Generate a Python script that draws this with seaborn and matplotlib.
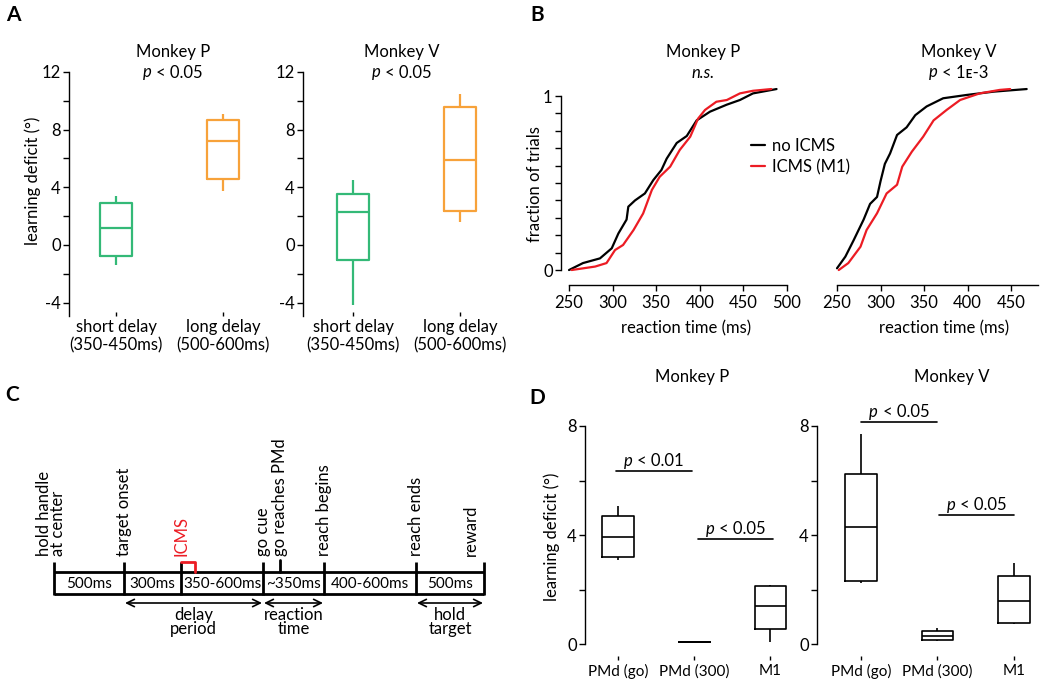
import numpy as np
import pandas as pd
import matplotlib
matplotlib.use("Agg")
import matplotlib.pyplot as plt
from matplotlib.lines import Line2D
from matplotlib.transforms import offset_copy
import seaborn as sns

# ---------------- data ----------------
# Panel A: five-number summaries (low whisker, q1, median, q3, high whisker)
A_conditions = ["short delay\n(350-450ms)", "long delay\n(500-600ms)"]
A_P_short = [-1.39, -0.76, 1.18, 2.89, 3.42]
A_P_long = [3.74, 4.60, 7.18, 8.66, 9.12]
A_V_short = [-4.16, -1.04, 2.29, 3.53, 4.48]
A_V_long = [1.62, 2.36, 5.87, 9.56, 10.44]
A_titles = ["Monkey P", "Monkey V"]
A_pvals = ["< 0.05", "< 0.05"]

# Panel B: cumulative reaction-time curves
P_no_rt = [250, 266, 285.5, 299, 306.6, 316, 318, 325.7, 337, 346.7, 356, 362, 373.5, 385, 396.4, 411.7, 430.8, 446, 461, 488]
P_no_frac = [0, 0.04, 0.067, 0.125, 0.21, 0.29, 0.364, 0.40, 0.44, 0.517, 0.575, 0.64, 0.73, 0.77, 0.86, 0.91, 0.95, 0.977, 1.015, 1.04]
P_icms_rt = [253, 280, 293, 302.8, 312, 324, 335, 345, 354, 366, 377, 389, 398, 406, 419, 431, 446, 461, 482]
P_icms_frac = [0, 0.02, 0.04, 0.115, 0.144, 0.23, 0.325, 0.46, 0.536, 0.594, 0.69, 0.766, 0.87, 0.92, 0.967, 0.977, 1.015, 1.03, 1.04]
V_no_rt = [250, 259.6, 269, 280.6, 288, 296, 300, 305, 311, 319, 330, 340, 353, 372, 399, 430, 468]
V_no_frac = [0.01, 0.077, 0.17, 0.29, 0.38, 0.42, 0.51, 0.61, 0.67, 0.776, 0.82, 0.89, 0.94, 0.987, 1.006, 1.025, 1.04]
V_icms_rt = [252, 263, 277, 284, 296, 307, 319, 325, 336, 349, 361, 376, 391.5, 414, 437, 449]
V_icms_frac = [0, 0.04, 0.134, 0.23, 0.326, 0.44, 0.49, 0.594, 0.68, 0.766, 0.86, 0.92, 0.977, 1.015, 1.035, 1.04]
B_legend = ["no ICMS", "ICMS (M1)"]
B_P_ticks = [250, 300, 350, 400, 450, 500]
B_V_ticks = [250, 300, 350, 400, 450]

# Panel C: schematic timeline
C_edges = [54, 124, 181, 263, 324, 416, 484]
C_durations = ["500ms", "300ms", "350-600ms", "~350ms", "400-600ms", "500ms"]
C_event_x = [51, 124, 181, 263, 280, 324, 416, 471]
C_events = ["hold handle\nat center", "target onset", "ICMS", "go cue", "go reaches PMd",
            "reach begins", "reach ends", "reward"]
C_periods = [(124, 263, "delay\nperiod"), (263, 324, "reaction\ntime"), (416, 484, "hold\ntarget")]

# Panel D
D_conditions = ["PMd (go)", "PMd (300)", "M1"]
D_P = [[3.08, 3.20, 3.94, 4.71, 5.06],
       [0.06, 0.06, 0.06, 0.06, 0.06],
       [0.06, 0.54, 1.38, 2.12, 2.17]]
D_V = [[2.25, 2.30, 4.28, 6.23, 7.70],
       [0.12, 0.15, 0.31, 0.49, 0.57],
       [0.72, 0.78, 1.57, 2.48, 2.98]]
D_P_sig = [(-0.03, 0.97, 6.36, "< 0.01"), (1.05, 2.04, 3.87, "< 0.05")]
D_V_sig = [(0.0, 1.0, 8.15, "< 0.05"), (1.02, 2.0, 4.73, "< 0.05")]

GREEN = "#34b977"
ORANGE = "#f7a23a"
RED = "#ec1c24"

# ---------------- style ----------------
sns.set_theme(style="white")
plt.rcParams["font.family"] = ["Lato", "DejaVu Sans"]
plt.rcParams["axes.linewidth"] = 1.0
plt.rcParams["axes.edgecolor"] = "black"
plt.rcParams["axes.unicode_minus"] = False
plt.rcParams["text.color"] = "black"
plt.rcParams["xtick.color"] = "black"
plt.rcParams["ytick.color"] = "black"
FS = 12
FS_NUM = 11

W, H = 1050, 687
fig = plt.figure(figsize=(W / 100, H / 100), dpi=100)
renderer = fig.canvas.get_renderer()


def px_axes(l, t, r, b):
    return fig.add_axes([l / W, 1 - b / H, (r - l) / W, (b - t) / H])


def fxy(x, y):
    return x / W, 1 - y / H


def text_width(s, fs, style="normal"):
    t = fig.text(0, 0, s, fontsize=fs, style=style)
    w = t.get_window_extent(renderer).width
    t.remove()
    return w


def ptext(x, y, rest, transform, fs=FS):
    wp = text_width("p", fs, "italic")
    wr = text_width(rest, fs)
    gap = 0.27 * fs * 100 / 72
    total = wp + gap + wr
    start = -total / 2
    fig.text(x, y, "p", fontsize=fs, style="italic", ha="left", va="center_baseline",
             transform=offset_copy(transform, fig=fig, x=start * 72 / 100, y=0, units="points"))
    fig.text(x, y, rest, fontsize=fs, ha="left", va="center_baseline",
             transform=offset_copy(transform, fig=fig, x=(start + wp + gap) * 72 / 100, y=0, units="points"))


def five_df(conds, values):
    rows = []
    for c, v in zip(conds, values):
        for val in v:
            rows.append({"cond": c, "val": val})
    return pd.DataFrame(rows)


# ---------------- Panel A ----------------
A_layout = [(69, 270, -0.44, 1.44, A_P_short, A_P_long, 173),
            (303, 504, -0.467, 1.41, A_V_short, A_V_long, 402)]
for i, (l, r, x0, x1, s_box, l_box, tx) in enumerate(A_layout):
    ax = px_axes(l, 72, r, 316)
    df = five_df(A_conditions, [s_box, l_box])
    sns.boxplot(data=df, x="cond", y="val", hue="cond", order=A_conditions,
                palette=[GREEN, ORANGE], fill=False, width=0.3, linewidth=1.6,
                whis=np.inf, showcaps=False, showfliers=False, legend=False, ax=ax)
    ax.set_xlim(x0, x1)
    ax.set_ylim(-4.93, 12)
    ax.set_yticks([-4, 0, 4, 8, 12])
    ax.set_yticks([-2, 2, 6, 10], minor=True)
    ax.tick_params(axis="y", which="both", direction="out", length=4, width=1,
                   left=True, labelsize=FS, pad=2)
    ax.set_xticks([0, 1])
    ax.set_xticklabels(A_conditions, linespacing=1.2)
    ax.tick_params(axis="x", direction="in", length=3, width=1, bottom=True,
                   labelsize=FS, pad=2)
    for sp in ["top", "right", "bottom"]:
        ax.spines[sp].set_visible(False)
    ax.set_xlabel("")
    ax.set_ylabel("")
    fig.text(*fxy(tx, 52), A_titles[i], fontsize=FS, ha="center", va="center")
    ptext(*fxy(tx, 71), A_pvals[i], fig.transFigure)

fig.text(*fxy(33, 181), "learning deficit (°)", fontsize=FS, rotation=90,
         ha="center", va="center")
fig.text(*fxy(13, 15), "A", fontsize=15, fontweight="bold", ha="center", va="center")

# ---------------- Panel B ----------------
axBP = px_axes(561, 87.3, 787, 285)
sns.lineplot(x=P_no_rt, y=P_no_frac, color="black", linewidth=1.6, estimator=None,
             sort=False, ax=axBP)
sns.lineplot(x=P_icms_rt, y=P_icms_frac, color=RED, linewidth=1.6, estimator=None,
             sort=False, ax=axBP)
axBV = px_axes(829, 87.3, 1038, 285)
sns.lineplot(x=V_no_rt, y=V_no_frac, color="black", linewidth=1.6, estimator=None,
             sort=False, ax=axBV)
sns.lineplot(x=V_icms_rt, y=V_icms_frac, color=RED, linewidth=1.6, estimator=None,
             sort=False, ax=axBV)

for ax, xmax, ticks in [(axBP, 500, B_P_ticks), (axBV, 481, B_V_ticks)]:
    ax.set_xlim(240.8, xmax)
    ax.set_ylim(-0.086, 1.05)
    ax.set_xticks(ticks)
    ax.tick_params(axis="x", direction="out", length=4, width=1, bottom=True,
                   labelsize=FS, pad=3)
    for sp in ["top", "right"]:
        ax.spines[sp].set_visible(False)
    ax.spines["bottom"].set_bounds(250, xmax)
    ax.set_xlabel("")
    ax.set_ylabel("")

axBP.set_yticks([0, 1])
axBP.set_yticks(np.arange(1, 10) / 10, minor=True)
axBP.tick_params(axis="y", which="both", direction="out", length=4, width=1,
                 left=True, labelsize=FS, pad=2)
axBP.spines["left"].set_bounds(0, 1)
axBV.spines["left"].set_visible(False)
axBV.set_yticks([])
axBV.tick_params(axis="y", left=False, labelleft=False)

fig.text(*fxy(686, 328), "reaction time (ms)", fontsize=FS, ha="center", va="center")
fig.text(*fxy(944, 328), "reaction time (ms)", fontsize=FS, ha="center", va="center")
fig.text(*fxy(535, 184), "fraction of trials", fontsize=FS, rotation=90,
         ha="center", va="center")
fig.text(*fxy(703, 52), "Monkey P", fontsize=FS, ha="center", va="center")
fig.text(*fxy(703, 71), "n.s.", fontsize=FS, style="italic", ha="center", va="center_baseline")
fig.text(*fxy(959, 52), "Monkey V", fontsize=FS, ha="center", va="center")
ptext(*fxy(959, 71), "< 1ᴇ-3", fig.transFigure)

handles = [Line2D([0], [0], color="black", lw=1.6), Line2D([0], [0], color=RED, lw=1.6)]
fig.legend(handles, B_legend, loc="upper left", bbox_to_anchor=fxy(751, 138),
           frameon=False, fontsize=FS, handlelength=0.85, handletextpad=0.4,
           labelspacing=0.3, borderpad=0, borderaxespad=0)
fig.text(*fxy(537, 15), "B", fontsize=15, fontweight="bold", ha="center", va="center")

# ---------------- Panel C ----------------
axC = px_axes(0, 380, 520, 687)
axC.set_xlim(0, 520)
axC.set_ylim(307, 0)
axC.axis("off")
bar_top, bar_bot = 192, 214
axC.plot([C_edges[0], C_edges[-1]], [bar_top, bar_top], color="black", lw=2, solid_capstyle="butt")
axC.plot([C_edges[0], C_edges[-1]], [bar_bot, bar_bot], color="black", lw=2, solid_capstyle="butt")
for e in C_edges:
    axC.plot([e, e], [bar_bot + 1, 182], color="black", lw=2, solid_capstyle="butt")
axC.plot([C_event_x[4], C_event_x[4]], [bar_top, 180], color="black", lw=2)
# ICMS bracket
axC.plot([C_edges[2], 195, 195], [181.5, 181.5, bar_top], color=RED, lw=2)
for i, lab in enumerate(C_durations):
    cx = (C_edges[i] + C_edges[i + 1]) / 2
    axC.text(cx, (bar_top + bar_bot) / 2 + 0.5, lab, fontsize=FS_NUM, ha="center", va="center")
for x, lab in zip(C_event_x, C_events):
    axC.text(x, 176, lab, fontsize=FS, rotation=90, ha="center", va="bottom",
             color=RED if lab == "ICMS" else "black", linespacing=0.85,
             multialignment="left")
for x0, x1, lab in C_periods:
    axC.annotate("", xy=(x1 - 1, 223), xytext=(x0 + 1, 223),
                 arrowprops=dict(arrowstyle="<->,head_length=0.45,head_width=0.22",
                                 color="black", lw=1.2, shrinkA=0, shrinkB=0))
    axC.text((x0 + x1) / 2, 242, lab, fontsize=FS, ha="center", va="center",
             linespacing=0.8)
fig.text(*fxy(12, 395), "C", fontsize=15, fontweight="bold", ha="center", va="center")

# ---------------- Panel D ----------------
D_layout = [(585, 800, -0.434, 2.39, D_P, D_P_sig, "Monkey P", 692),
            (817, 1040, -0.575, 2.34, D_V, D_V_sig, "Monkey V", 952)]
for i, (l, r, x0, x1, boxes, sigs, title, tx) in enumerate(D_layout):
    ax = px_axes(l, 426, r, 660)
    df = five_df(D_conditions, boxes)
    sns.boxplot(data=df, x="cond", y="val", order=D_conditions, color="black",
                fill=False, width=0.41, linewidth=1.2, whis=np.inf, showcaps=False,
                showfliers=False, ax=ax)
    ax.set_xlim(x0, x1)
    ax.set_ylim(-0.587, 8)
    ax.set_yticks([0, 4, 8])
    ax.set_yticks([2, 6], minor=True)
    ax.tick_params(axis="y", which="both", direction="out", length=4, width=1,
                   left=True, labelsize=FS, pad=2)
    ax.set_xticks([0, 1, 2])
    ax.set_xticklabels(D_conditions)
    ax.tick_params(axis="x", direction="in", length=3, width=1, bottom=True,
                   labelsize=FS_NUM, pad=3)
    for sp in ["top", "right", "bottom"]:
        ax.spines[sp].set_visible(False)
    ax.spines["left"].set_bounds(0, 8)
    ax.set_xlabel("")
    ax.set_ylabel("")
    for sx0, sx1, sy, lab in sigs:
        ax.plot([sx0, sx1], [sy, sy], color="black", lw=1.2, clip_on=False)
        ptext((sx0 + sx1) / 2, sy + 0.42, lab, ax.transData)
    fig.text(*fxy(tx, 377), title, fontsize=FS, ha="center", va="center")

fig.text(*fxy(552, 537), "learning deficit (°)", fontsize=FS, rotation=90,
         ha="center", va="center")
fig.text(*fxy(537, 398), "D", fontsize=15, fontweight="bold", ha="center", va="center")

fig.savefig("out.png", dpi=100)
